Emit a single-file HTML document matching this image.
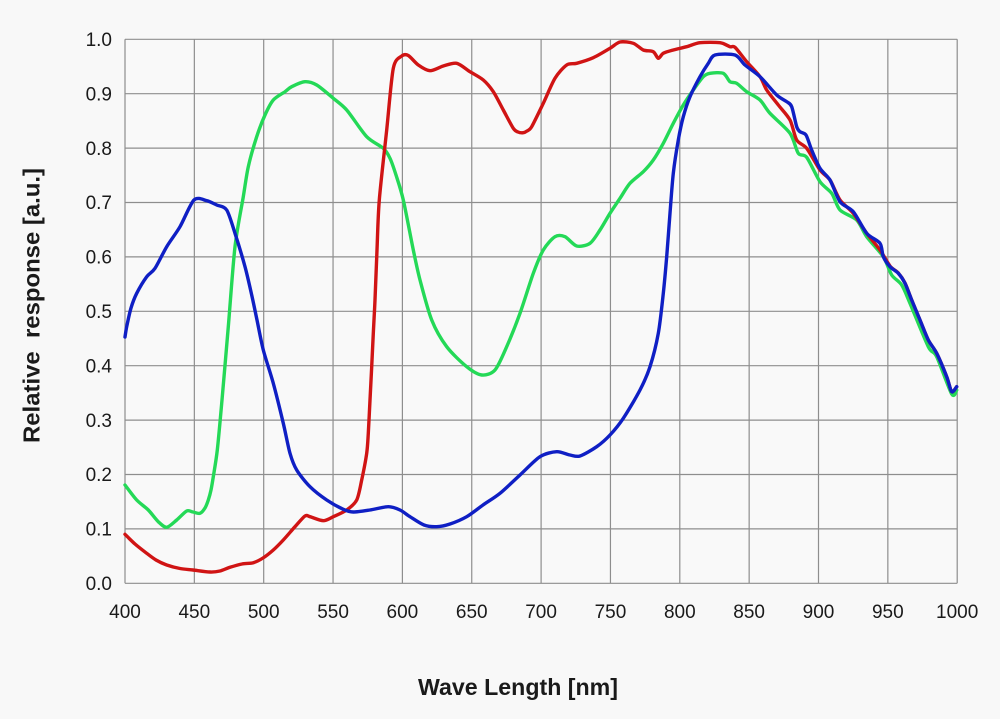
<!DOCTYPE html>
<html>
<head>
<meta charset="utf-8">
<style>
  html, body { margin: 0; padding: 0; background: #f8f8f8; }
  body { width: 1000px; height: 719px; overflow: hidden; }
  svg { display: block; }
  text { font-family: "Liberation Sans", "DejaVu Sans", sans-serif; fill: #1a1a1a; }
</style>
</head>
<body>
<svg id="chart" width="1000" height="719" viewBox="0 0 1000 719" xmlns="http://www.w3.org/2000/svg">
  <rect x="0" y="0" width="1000" height="719" fill="#f8f8f8"/>
  <rect x="125" y="39.3" width="832.2" height="544" fill="#f9f9f9"/>
  <!-- grid -->
  <g stroke="#8e8e8e" stroke-width="1.2" fill="none">
    <line x1="125" y1="39.3" x2="957.2" y2="39.3"/>
    <line x1="125" y1="93.7" x2="957.2" y2="93.7"/>
    <line x1="125" y1="148.1" x2="957.2" y2="148.1"/>
    <line x1="125" y1="202.5" x2="957.2" y2="202.5"/>
    <line x1="125" y1="256.9" x2="957.2" y2="256.9"/>
    <line x1="125" y1="311.3" x2="957.2" y2="311.3"/>
    <line x1="125" y1="365.7" x2="957.2" y2="365.7"/>
    <line x1="125" y1="420.1" x2="957.2" y2="420.1"/>
    <line x1="125" y1="474.5" x2="957.2" y2="474.5"/>
    <line x1="125" y1="528.9" x2="957.2" y2="528.9"/>
    <line x1="125" y1="583.3" x2="957.2" y2="583.3"/>
    <line x1="125" y1="39.3" x2="125" y2="583.3"/>
    <line x1="194.35" y1="39.3" x2="194.35" y2="583.3"/>
    <line x1="263.7" y1="39.3" x2="263.7" y2="583.3"/>
    <line x1="333.05" y1="39.3" x2="333.05" y2="583.3"/>
    <line x1="402.4" y1="39.3" x2="402.4" y2="583.3"/>
    <line x1="471.75" y1="39.3" x2="471.75" y2="583.3"/>
    <line x1="541.1" y1="39.3" x2="541.1" y2="583.3"/>
    <line x1="610.45" y1="39.3" x2="610.45" y2="583.3"/>
    <line x1="679.8" y1="39.3" x2="679.8" y2="583.3"/>
    <line x1="749.15" y1="39.3" x2="749.15" y2="583.3"/>
    <line x1="818.5" y1="39.3" x2="818.5" y2="583.3"/>
    <line x1="887.85" y1="39.3" x2="887.85" y2="583.3"/>
    <line x1="957.2" y1="39.3" x2="957.2" y2="583.3"/>
  </g>

  <!-- Y tick labels -->
  <g font-size="19" text-anchor="end">
    <text x="112" y="46">1.0</text>
    <text x="112" y="100.4">0.9</text>
    <text x="112" y="154.8">0.8</text>
    <text x="112" y="209.2">0.7</text>
    <text x="112" y="263.6">0.6</text>
    <text x="112" y="318">0.5</text>
    <text x="112" y="372.4">0.4</text>
    <text x="112" y="426.8">0.3</text>
    <text x="112" y="481.2">0.2</text>
    <text x="112" y="535.6">0.1</text>
    <text x="112" y="590">0.0</text>
  </g>

  <!-- X tick labels -->
  <g font-size="19" text-anchor="middle">
    <text x="125" y="618">400</text>
    <text x="194.35" y="618">450</text>
    <text x="263.7" y="618">500</text>
    <text x="333.05" y="618">550</text>
    <text x="402.4" y="618">600</text>
    <text x="471.75" y="618">650</text>
    <text x="541.1" y="618">700</text>
    <text x="610.45" y="618">750</text>
    <text x="679.8" y="618">800</text>
    <text x="749.15" y="618">850</text>
    <text x="818.5" y="618">900</text>
    <text x="887.85" y="618">950</text>
    <text x="957.2" y="618">1000</text>
  </g>

  <!-- Axis titles -->
  <text x="418" y="695" font-size="23" font-weight="bold" textLength="200" lengthAdjust="spacingAndGlyphs">Wave Length [nm]</text>
  <text transform="translate(39.5,305.5) rotate(-90)" text-anchor="middle" font-size="23" font-weight="bold" textLength="275" lengthAdjust="spacingAndGlyphs" xml:space="preserve">Relative  response [a.u.]</text>

  <!-- Series -->
  <g id="series" fill="none" stroke-width="3.4" stroke-linejoin="round" stroke-linecap="round">
    <!-- Green -->
    <polyline stroke="#24d957" points="125,485 136.7,500 148.3,510 158.3,521.7 166.7,527.3 176.7,520 186.7,511 193,512 200,513.3 205,508 208.3,500 211,490 213.3,476.7 217.3,450 222,400 228.3,326.7 235,246.7 243.3,196.7 248.3,166.7 256.7,136.7 265,115 273.3,100 285,91.7 291.7,86.7 305,81.7 316.7,85 333.3,98.3 346.7,110 366.7,136.7 383.3,148.3 390,158.3 396,175 403.3,200 413.3,250 420,280 431.7,320 446.7,346.7 466.7,366.7 481.7,375 495,370 506.7,346.7 520,313.3 533.3,273.3 543.3,250 555,236.7 565,236.7 576.7,246 590,243.3 600,230 610,213.3 620,198.3 630,183.3 643.3,171.7 653.3,160 663.3,143.3 673.3,123.3 683.3,105 693.3,90 703.3,76.7 710,73.3 723.3,73.3 730,81.7 736.7,83.3 746.7,91.7 760,100 770,113.3 790,133.3 798.3,153.3 806.7,157.3 820,181.7 831.7,193.3 840,210 856.7,220 866.7,236.7 883.3,256.7 891.7,275 901.7,285 910,303.3 928.3,346.7 936.7,356.7 951.7,394 956.7,390"/>
    <!-- Red -->
    <polyline stroke="#d01414" points="125,534.3 135,544 146.7,553.3 156,560 166.7,565 180,568.5 193,570 210,572 220,571 230,567.3 242,564 253.3,562.7 263,558 273.3,550 283.3,540 295,526.7 305,516 310,516.7 323.3,520.7 333.3,516.7 346.7,510 356.7,500 361.7,480 366.7,453.3 368.3,433.3 370,400 371.7,366.7 373.3,333.3 375,300 377,250 379.3,200 386.7,130 393.3,68.3 401.7,56 408.3,55.5 418.3,65 430,70.7 443.3,66 456.7,63.3 470,71.7 483.3,80 493.3,91.7 503.3,110 513.3,128.3 518,132 523.3,132.7 527,131 531.7,126.7 543.3,103.3 555,78.3 566.7,65 576.7,63.3 593.3,57.7 610,48.3 620,42 633.3,43.3 643.3,50 653.3,51.7 658.3,58.3 663.3,53.3 673.3,50 686.7,46.7 700,42.7 720,42.7 730,46.7 735,47.3 746.7,61.7 760,76.7 766.7,90 778.3,105 790,120 796.7,140 806.7,148.3 820,170 830,180 840,200 853.3,213.3 866.7,233.3 880,250 890,266 898.3,273 905,283 911.7,300 920,320 928.3,340 936.7,353.3 946.7,376.7 951.7,391.7 956.7,386.7"/>
    <!-- Blue -->
    <polyline stroke="#0f1fc4" points="125,337 126.7,326.7 131,308 136.7,293.3 146.7,276.7 155,268.3 166.7,246.7 180,226.7 194,200 206.7,200.7 216.7,205 226.7,210 235,233.3 245,266.7 251.7,295 257,320 263.3,350 273.3,383.3 283.3,423.3 290,453.3 296.7,470 310,486.7 326.7,500 343.3,509.3 353.3,512 370,510 388.3,506.7 400,510 410,516.7 424,525 436.7,526.7 450,524 466.7,516.7 483,505 500,493.3 520,475 540,456.7 556.7,451.7 570,455 580,456 596.7,446.7 610,435 623.3,418.3 640,390 650,366.7 658.3,333.3 663.3,293.3 666.7,256.7 670,213.3 673.3,173.3 678.3,140 683.3,116.7 690,96.7 700,76.7 708.3,63.3 715,55 735,55 745,65 760,76.7 776.7,95 786.7,101.7 791.7,106.7 796.7,126.7 800,131.7 806,135 811.7,150 820,168.3 830,180 840,201.7 853.3,211.7 866.7,233.3 880,243.3 883.3,256.7 890,266.7 898.3,273.3 905,283.3 911.7,300 920,320 928.3,340 936.7,353.3 946.7,376.7 951.7,391.7 956.7,386.7"/>
  </g>
</svg>
<script>
(function(){
  var NS = "http://www.w3.org/2000/svg";
  var g = document.getElementById("series");
  var pls = Array.prototype.slice.call(g.getElementsByTagName("polyline"));
  pls.forEach(function(pl){
    var raw = pl.getAttribute("points").trim().split(/\s+/).map(function(s){var a=s.split(",");return [parseFloat(a[0]),parseFloat(a[1])];});
    var d = "M" + raw[0][0] + "," + raw[0][1];
    for (var i=0;i<raw.length-1;i++){
      var p0 = raw[i-1]||raw[i], p1 = raw[i], p2 = raw[i+1], p3 = raw[i+2]||raw[i+1];
      var t = 0.14;
      var c1x = p1[0] + (p2[0]-p0[0])*t, c1y = p1[1] + (p2[1]-p0[1])*t;
      var c2x = p2[0] - (p3[0]-p1[0])*t, c2y = p2[1] - (p3[1]-p1[1])*t;
      d += " C" + c1x.toFixed(2)+","+c1y.toFixed(2)+" "+c2x.toFixed(2)+","+c2y.toFixed(2)+" "+p2[0]+","+p2[1];
    }
    var path = document.createElementNS(NS,"path");
    path.setAttribute("d", d);
    path.setAttribute("stroke", pl.getAttribute("stroke"));
    g.replaceChild(path, pl);
  });
})();
</script>
</body>
</html>
